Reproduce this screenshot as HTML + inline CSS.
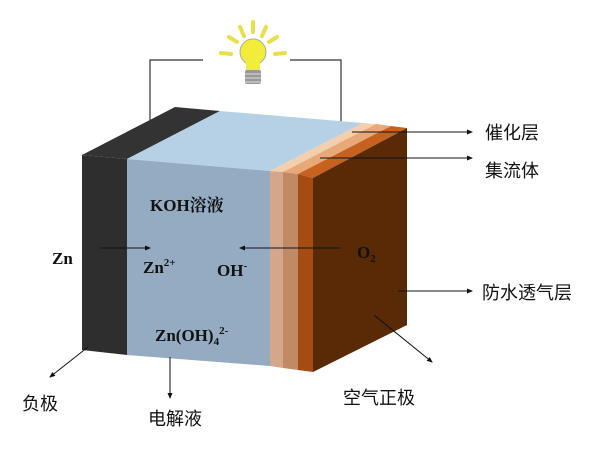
<!DOCTYPE html>
<html><head><meta charset="utf-8"><style>
html,body{margin:0;padding:0;background:#fff;width:600px;height:450px;overflow:hidden}
svg{display:block}
.b{font-family:"Liberation Serif","Noto Serif CJK SC",serif;font-weight:bold;font-size:17px;fill:#111}
.c{font-family:"Liberation Sans","Noto Sans CJK SC",sans-serif;font-size:18px;fill:#111}
</style></head><body>
<svg width="600" height="450" viewBox="0 0 600 450">
<defs><marker id="a" markerWidth="6" markerHeight="6" refX="5" refY="3" orient="auto"><path d="M0,0.5 L6,3 L0,5.5z" fill="#111"/></marker></defs>
<!-- wires -->
<polyline points="203,60 150,60 150,128" fill="none" stroke="#333" stroke-width="1.2"/>
<polyline points="290,60 341,60 341,143" fill="none" stroke="#333" stroke-width="1.2"/>
<!-- bulb -->
<g>
<g stroke="#e8e04a" stroke-width="4" stroke-linecap="round">
<line x1="253" y1="22" x2="253" y2="32"/><line x1="240" y1="27" x2="244" y2="36"/><line x1="266" y1="27" x2="262" y2="36"/>
<line x1="229" y1="37" x2="237" y2="42"/><line x1="277" y1="37" x2="269" y2="42"/>
<line x1="221" y1="53" x2="231" y2="54"/><line x1="285" y1="53" x2="275" y2="54"/>
</g>
<circle cx="253" cy="52" r="13" fill="#f2ec3a" stroke="#aaa" stroke-width="1"/>
<rect x="246" y="60" width="14" height="10" fill="#f2ec3a"/>
<rect x="245" y="70" width="16" height="14" rx="2" fill="#999"/>
<g stroke="#ddd" stroke-width="1"><line x1="245" y1="74" x2="261" y2="74"/><line x1="245" y1="78" x2="261" y2="78"/><line x1="245" y1="82" x2="261" y2="82"/></g>
</g>
<!-- top face -->
<polygon points="82,155 127,159 220,111 175,107" fill="#333"/>
<polygon points="127,159 270,171 363,123 220,111" fill="#b6d1e6"/>
<polygon points="270,171 283,172 376,124 363,123" fill="#f4cfae"/>
<polygon points="283,172 298,174 391,126 376,124" fill="#e9a878"/>
<polygon points="298,174 313,178 407,128 391,126" fill="#c6621e"/>
<!-- front face -->
<polygon points="82,155 127,159 127,355 82,350" fill="#2e2e2e"/>
<polygon points="127,159 270,171 270,366 127,355" fill="#94abc1"/>
<polygon points="270,171 283,172 283,368 270,366" fill="#d4a78a"/>
<polygon points="283,172 298,174 298,370 283,368" fill="#c08a66"/>
<polygon points="298,174 313,178 313,372 298,370" fill="#a44c12"/>
<!-- right face -->
<polygon points="313,178 407,128 407,325 313,372" fill="#5a2a07"/>
<!-- arrows inside -->
<line x1="100" y1="248" x2="150" y2="248" stroke="#111" stroke-width="1" marker-end="url(#a)"/>
<line x1="340" y1="248" x2="240" y2="248" stroke="#111" stroke-width="1" marker-end="url(#a)"/>
<!-- callouts -->
<line x1="352" y1="132" x2="472" y2="132" stroke="#111" stroke-width="1" marker-end="url(#a)"/>
<line x1="320" y1="158" x2="472" y2="158" stroke="#111" stroke-width="1" marker-end="url(#a)"/>
<line x1="398" y1="291" x2="472" y2="291" stroke="#111" stroke-width="1" marker-end="url(#a)"/>
<line x1="374" y1="315" x2="432" y2="362" stroke="#111" stroke-width="1" marker-end="url(#a)"/>
<line x1="88" y1="347" x2="50" y2="377" stroke="#111" stroke-width="1" marker-end="url(#a)"/>
<line x1="170" y1="357" x2="170" y2="398" stroke="#111" stroke-width="1" marker-end="url(#a)"/>
<!-- labels -->
<text class="b" x="150" y="211">KOH溶液</text>
<text class="b" x="52" y="264">Zn</text>
<text class="b" x="143" y="273">Zn<tspan font-size="11" dy="-7">2+</tspan></text>
<text class="b" x="217" y="276">OH<tspan font-size="11" dy="-7">-</tspan></text>
<text class="b" x="357" y="258">O<tspan font-size="11" dy="4">2</tspan></text>
<text class="b" x="155" y="341">Zn(OH)<tspan font-size="11" dy="4">4</tspan><tspan font-size="11" dy="-11">2-</tspan></text>
<text class="c" x="485" y="139">催化层</text>
<text class="c" x="485" y="177">集流体</text>
<text class="c" x="482" y="299">防水透气层</text>
<text class="c" x="343" y="404">空气正极</text>
<text class="c" x="22" y="410">负极</text>
<text class="c" x="148" y="425">电解液</text>
</svg>
</body></html>
